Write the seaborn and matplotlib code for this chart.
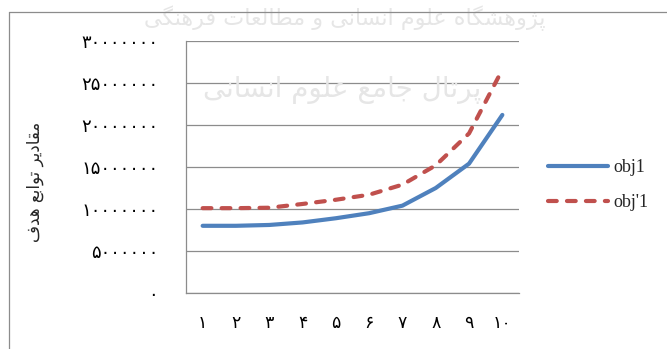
import matplotlib
matplotlib.use("Agg")
import matplotlib.pyplot as plt
from matplotlib.lines import Line2D
import pandas as pd
import seaborn as sns

# ---- data ----
iterations = [1, 2, 3, 4, 5, 6, 7, 8, 9, 10]
obj1 = [8.0e6, 8.0e6, 8.1e6, 8.4e6, 8.9e6, 9.5e6, 10.4e6, 12.5e6, 15.4e6, 21.2e6]
obj1_prime = [10.1e6, 10.1e6, 10.15e6, 10.6e6, 11.1e6, 11.7e6, 12.9e6, 15.2e6, 19.0e6, 26.6e6]
series_names = ["obj1", "obj'1"]
y_ticks = [0, 5000000, 10000000, 15000000, 20000000, 25000000, 30000000]
y_title = "مقادیر توابع هدف"
watermark = ["پژوهشگاه علوم انسانی و مطالعات فرهنگی", "پرتال جامع علوم انسانی"]

BLUE = "#4F81BD"
RED = "#C0504D"
GRID = "#8c8c8c"

# ---- helpers: Persian digits and Arabic-script shaping ----
_FA_DIGITS = str.maketrans("0123456789", "۰۱۲۳۴۵۶۷۸۹")


def fa_num(v):
    return str(int(v)).translate(_FA_DIGITS)


# isolated, final, initial, medial presentation forms
_FORMS = {
    "ا": (0xFE8D, 0xFE8E), "ب": (0xFE8F, 0xFE90, 0xFE91, 0xFE92),
    "پ": (0xFB56, 0xFB57, 0xFB58, 0xFB59), "ت": (0xFE95, 0xFE96, 0xFE97, 0xFE98),
    "ج": (0xFE9D, 0xFE9E, 0xFE9F, 0xFEA0), "ح": (0xFEA1, 0xFEA2, 0xFEA3, 0xFEA4),
    "د": (0xFEA9, 0xFEAA), "ر": (0xFEAD, 0xFEAE), "ز": (0xFEAF, 0xFEB0),
    "ژ": (0xFB8A, 0xFB8B), "س": (0xFEB1, 0xFEB2, 0xFEB3, 0xFEB4),
    "ش": (0xFEB5, 0xFEB6, 0xFEB7, 0xFEB8), "ط": (0xFEC1, 0xFEC2, 0xFEC3, 0xFEC4),
    "ع": (0xFEC9, 0xFECA, 0xFECB, 0xFECC), "ف": (0xFED1, 0xFED2, 0xFED3, 0xFED4),
    "ق": (0xFED5, 0xFED6, 0xFED7, 0xFED8), "ک": (0xFB8E, 0xFB8F, 0xFB90, 0xFB91),
    "گ": (0xFB92, 0xFB93, 0xFB94, 0xFB95), "ل": (0xFEDD, 0xFEDE, 0xFEDF, 0xFEE0),
    "م": (0xFEE1, 0xFEE2, 0xFEE3, 0xFEE4), "ن": (0xFEE5, 0xFEE6, 0xFEE7, 0xFEE8),
    "ه": (0xFEE9, 0xFEEA, 0xFEEB, 0xFEEC), "و": (0xFEED, 0xFEEE),
    "ی": (0xFBFC, 0xFBFD, 0xFBFE, 0xFBFF),
}


def shape_rtl(text):
    out = []
    for i, ch in enumerate(text):
        forms = _FORMS.get(ch)
        if forms is None:
            out.append(ch)
            continue
        prev = text[i - 1] if i > 0 else ""
        nxt = text[i + 1] if i + 1 < len(text) else ""
        join_prev = prev in _FORMS and len(_FORMS[prev]) == 4
        join_next = len(forms) == 4 and nxt in _FORMS
        if join_prev and join_next:
            cp = forms[3]
        elif join_prev:
            cp = forms[1]
        elif join_next:
            cp = forms[2]
        else:
            cp = forms[0]
        out.append(chr(cp))
    return "".join(reversed(out))


# ---- figure ----
sns.set_theme(style="white")
plt.rcParams["font.family"] = ["DejaVu Sans"]

W, H = 667, 349
fig = plt.figure(figsize=(W / 100, H / 100), dpi=100)
fig.patch.set_facecolor("white")

# faint background watermark
fig.text(345 / W, 1 - 18 / H, shape_rtl(watermark[0]), ha="center", va="center",
         fontsize=16, color="#e6e6e6", zorder=0)
fig.text(342 / W, 1 - 90 / H, shape_rtl(watermark[1]), ha="center", va="center",
         fontsize=20, color="#e6e6e6", zorder=0)

# outer chart frame
fig.add_artist(Line2D([9 / W, 9 / W], [0, 1 - 12 / H], transform=fig.transFigure,
                      color=GRID, lw=0.9))
fig.add_artist(Line2D([9 / W, 1], [1 - 12 / H, 1 - 12 / H], transform=fig.transFigure,
                      color=GRID, lw=0.9))

ax = fig.add_axes([186 / W, 1 - 293 / H, (519 - 186) / W, (293 - 41) / H])
ax.patch.set_alpha(0)

df = pd.DataFrame({
    "iteration": iterations * 2,
    "value": obj1 + obj1_prime,
    "series": [series_names[0]] * len(iterations) + [series_names[1]] * len(iterations),
})
sns.lineplot(data=df, x="iteration", y="value", hue="series", style="series",
             palette=[BLUE, RED], dashes=["", (2.1, 2.45)], linewidth=3,
             legend=False, ax=ax)
for ln in ax.lines:
    ln.set_solid_capstyle("round")
    ln.set_dash_capstyle("round")

ax.set_xlim(0.5, 10.5)
ax.set_ylim(0, 30000000)
ax.set_xticks(iterations)
ax.set_xticklabels([fa_num(v) for v in iterations], fontsize=12.5)
ax.set_yticks(y_ticks)
ax.set_yticklabels([fa_num(v) for v in y_ticks], fontsize=13)
ax.tick_params(axis="both", length=0, colors="black")
ax.tick_params(axis="y", pad=20)
ax.tick_params(axis="x", pad=15)
ax.set_xlabel("")
ax.set_ylabel("")

ax.yaxis.grid(True, color=GRID, lw=0.9)
ax.xaxis.grid(False)
ax.set_axisbelow(True)
for side in ("top", "right"):
    ax.spines[side].set_visible(False)
for side in ("left", "bottom"):
    ax.spines[side].set_color(GRID)
    ax.spines[side].set_linewidth(0.9)

fig.text(35 / W, 1 - 182 / H, shape_rtl(y_title), rotation=90, ha="center",
         va="center", fontsize=12)

handles = [
    Line2D([], [], color=BLUE, lw=3, solid_capstyle="round"),
    Line2D([], [], color=RED, lw=3, linestyle=(0, (2.1, 2.45)), dash_capstyle="round"),
]
fig.legend(handles, series_names, loc="center left", bbox_to_anchor=(548 / W, 1 - 185 / H),
           frameon=False, handlelength=3.3, handletextpad=0.3, labelspacing=1.0,
           borderpad=0, borderaxespad=0,
           prop={"family": "Liberation Serif", "size": 13})

fig.savefig("out.png", dpi=100)
